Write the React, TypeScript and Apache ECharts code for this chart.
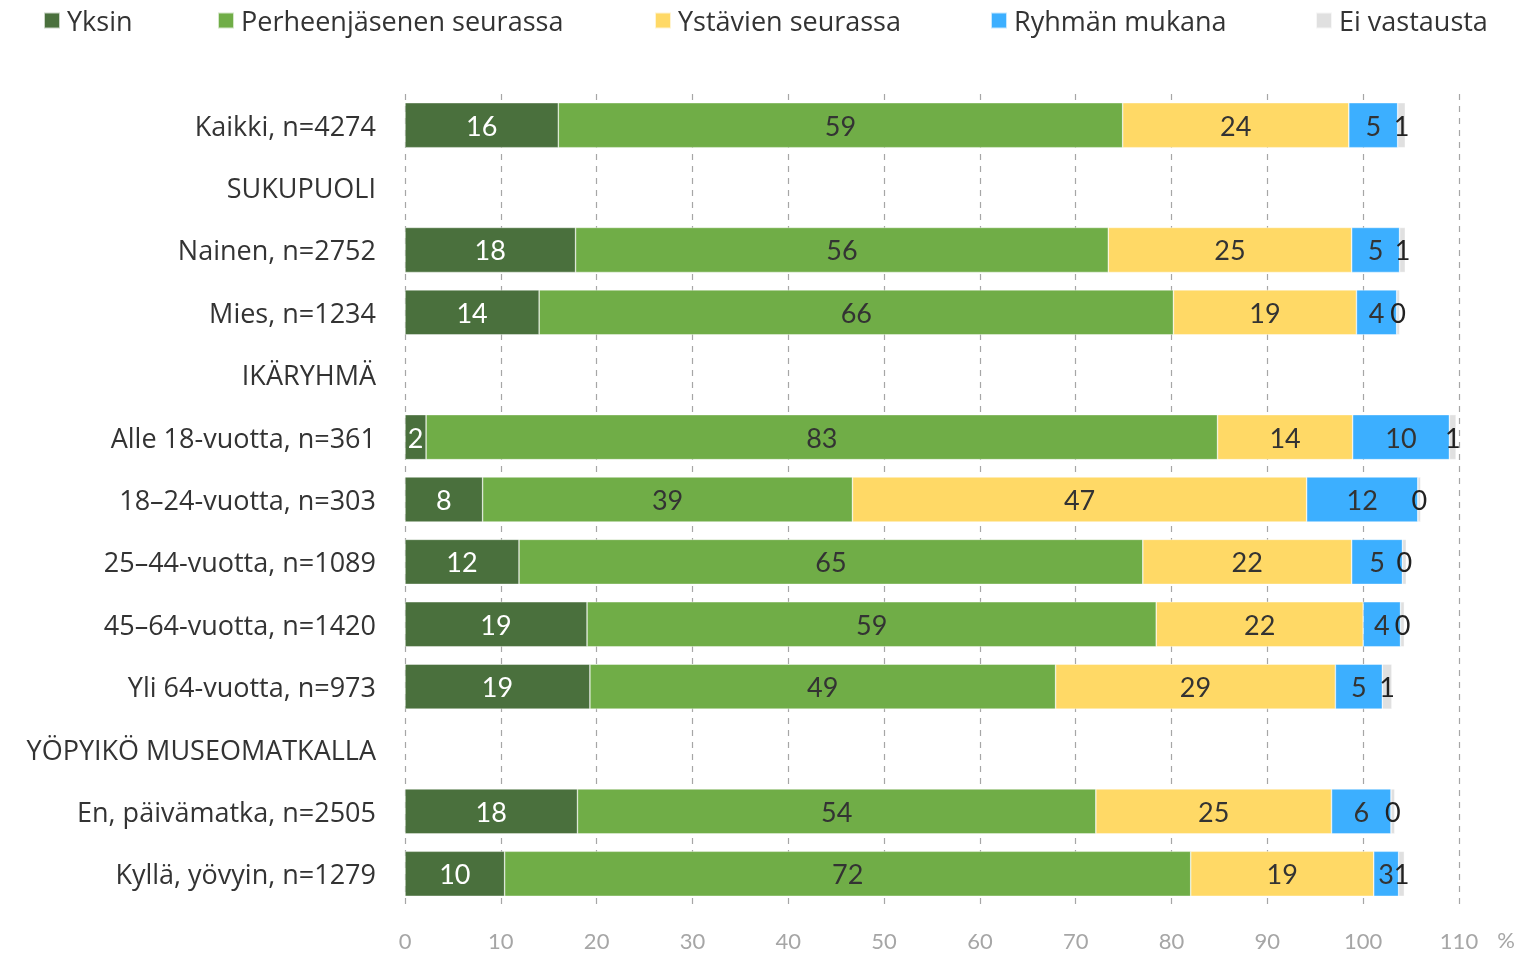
import React, { useEffect, useRef } from "react";
import * as echarts from "echarts";

const categories = [
  "Kaikki, n=4274",
  "SUKUPUOLI",
  "Nainen, n=2752",
  "Mies, n=1234",
  "IKÄRYHMÄ",
  "Alle 18-vuotta, n=361",
  "18–24-vuotta, n=303",
  "25–44-vuotta, n=1089",
  "45–64-vuotta, n=1420",
  "Yli 64-vuotta, n=973",
  "YÖPYIKÖ MUSEOMATKALLA",
  "En, päivämatka, n=2505",
  "Kyllä, yövyin, n=1279",
];

const seriesNames = ["Yksin", "Perheenjäsenen seurassa", "Ystävien seurassa", "Ryhmän mukana", "Ei vastausta"];

const yksin = [16.0, null, 17.8, 14.0, null, 2.2, 8.1, 11.9, 19.0, 19.3, null, 18.0, 10.4];
const perhe = [58.9, null, 55.6, 66.2, null, 82.6, 38.6, 65.1, 59.4, 48.6, null, 54.1, 71.6];
const ystavat = [23.6, null, 25.4, 19.1, null, 14.1, 47.4, 21.8, 21.6, 29.2, null, 24.6, 19.1];
const ryhma = [5.1, null, 5.0, 4.2, null, 10.1, 11.6, 5.3, 3.9, 4.9, null, 6.2, 2.6];
const eiVast = [0.8, null, 0.6, 0.3, null, 0.7, 0.3, 0.4, 0.4, 1.0, null, 0.4, 0.6];

const xTicks = [0, 10, 20, 30, 40, 50, 60, 70, 80, 90, 100, 110];

const colors = ["#4a703d", "#70ad47", "#ffd966", "#3cafff", "#e0e0e0"];
const labelColors = ["#ffffff", "#333333", "#333333", "#333333", "#222222"];
const legendLefts = [38, 212, 649, 985, 1310];

const FONT = "Lato, 'Open Sans', sans-serif";
const FONT2 = "'Open Sans', Lato, sans-serif";

export default function App() {
  const ref = useRef<HTMLDivElement>(null);

  useEffect(() => {
    if (!ref.current) return;
    const chart = echarts.init(ref.current, null, { renderer: "svg" });
    const allData = [yksin, perhe, ystavat, ryhma, eiVast];

    const series = allData.map((d, i) => ({
      name: seriesNames[i],
      type: "bar",
      stack: "total",
      barWidth: 45,
      data: d.map((v) => (v === null ? "-" : v)),
      itemStyle: { color: colors[i], borderColor: "rgba(255,255,255,0.7)", borderWidth: 0.6 },
      label: {
        show: true,
        position: "inside",
        color: labelColors[i],
        fontFamily: FONT,
        fontSize: 27,
        formatter: (p: any) => String(Math.round(p.value)),
      },
    }));

    const legends = seriesNames.map((n, i) => ({
      data: [n],
      left: legendLefts[i],
      top: 2,
      itemWidth: 16,
      itemHeight: 16,
      icon: "rect",
      textStyle: { fontFamily: FONT2, fontSize: 27, color: "#333", padding: [0, 0, 0, 2] },
      selectedMode: false,
    }));

    chart.setOption({
      animation: false,
      color: colors,
      legend: legends,
      grid: { left: 405, right: 60, top: 94, bottom: 49, containLabel: false },
      xAxis: {
        type: "value",
        min: xTicks[0],
        max: xTicks[xTicks.length - 1],
        interval: 10,
        axisLine: { show: false },
        axisTick: { show: false },
        axisLabel: { color: "#a6a6a6", fontFamily: FONT, fontSize: 22, margin: 24 },
        splitLine: { show: true, lineStyle: { color: "#a6a6a6", type: [6, 6], width: 1.2 } },
      },
      yAxis: {
        type: "category",
        inverse: true,
        data: categories,
        axisLine: { show: false },
        axisTick: { show: false },
        axisLabel: { color: "#333", fontFamily: FONT2, fontSize: 27, margin: 29 },
      },
      graphic: [
        {
          type: "text",
          right: 4,
          top: 928,
          style: { text: "%", fill: "#a6a6a6", font: `22px ${FONT}` },
        },
      ],
      series,
    });

    return () => chart.dispose();
  }, []);

  return <div ref={ref} style={{ position: "fixed", left: 0, top: 0, width: 1519, height: 954 }} />;
}
